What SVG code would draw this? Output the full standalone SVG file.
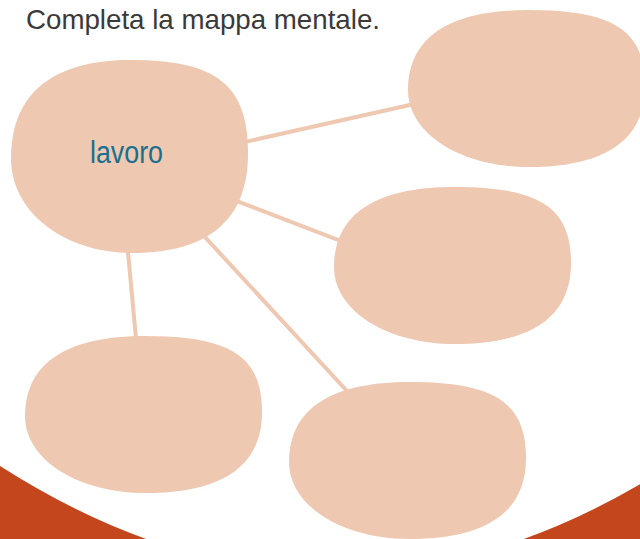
<svg xmlns="http://www.w3.org/2000/svg" xmlns:xlink="http://www.w3.org/1999/xlink" width="640" height="539" viewBox="0 0 640 539">
  <defs>
    <path id="blob" d="M120,0 C205,0 237,20 237,76 C237,135 190,157 120,157 C55,157 0,125 0,80 C0,25 45,0 120,0 Z"/>
  </defs>
  <style>
    .bubble { fill: #EEC8B1; }
    .conn { stroke: #EEC8B1; stroke-width: 4; fill: none; }
    .title { font-family: "Liberation Sans", Arial, sans-serif; font-size: 27.5px; fill: #3a3a3a; }
    .label { font-family: "Liberation Sans", Arial, sans-serif; font-size: 31px; fill: #1A6F8F; }
  </style>
  <rect width="640" height="539" fill="#ffffff"/>
  <path d="M0,466 Q335,680 670,466 L670,700 L0,700 Z" fill="#C4461C"/>
  <text class="title" x="26" y="29" textLength="354" lengthAdjust="spacingAndGlyphs">Completa la mappa mentale.</text>
  <g id="connectors">
    <line class="conn" x1="200" y1="152" x2="450" y2="96"/>
    <line class="conn" x1="200" y1="187" x2="380" y2="256"/>
    <line class="conn" x1="180" y1="210" x2="370" y2="416"/>
    <line class="conn" x1="125" y1="220" x2="138" y2="360"/>
  </g>
  <g id="node-lavoro">
    <use xlink:href="#blob" class="bubble" transform="translate(11,60) scale(1,1.229)"/>
    <text class="label" x="126.5" y="163" text-anchor="middle" textLength="73" lengthAdjust="spacingAndGlyphs">lavoro</text>
  </g>
  <g id="node-top-right">
    <use xlink:href="#blob" class="bubble" transform="translate(408,10)"/>
  </g>
  <g id="node-middle-right">
    <use xlink:href="#blob" class="bubble" transform="translate(334,187)"/>
  </g>
  <g id="node-bottom-left">
    <use xlink:href="#blob" class="bubble" transform="translate(25,336)"/>
  </g>
  <g id="node-bottom-middle">
    <use xlink:href="#blob" class="bubble" transform="translate(289,382)"/>
  </g>
</svg>
